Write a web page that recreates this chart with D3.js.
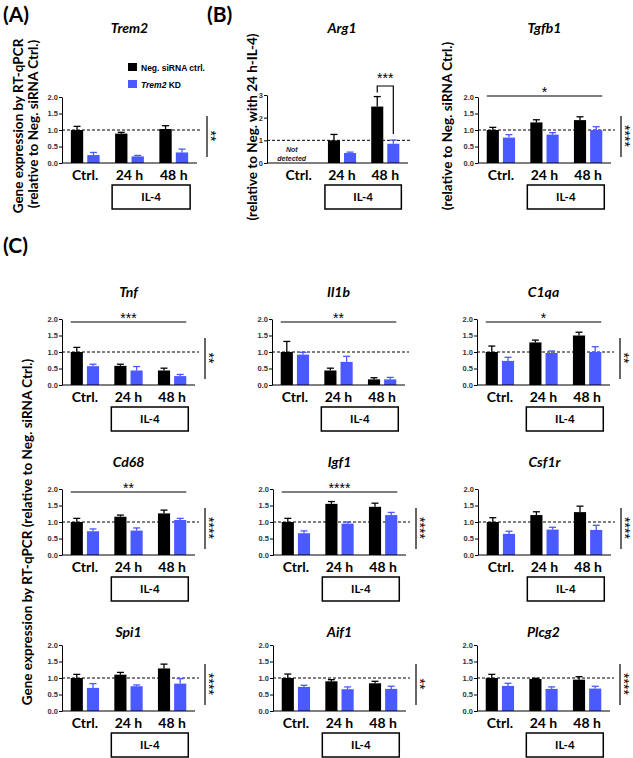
<!DOCTYPE html>
<html><head><meta charset="utf-8">
<script src="https://cdn.jsdelivr.net/npm/d3@7"></script>
<style>body{margin:0;background:#fff} svg{display:block}</style>
</head><body>
<script>
// ---------------- data ----------------
const groups = ["Ctrl.", "24 h", "48 h"];
const seriesNames = ["Neg. siRNA ctrl.", "Trem2 KD"];
const genes = ["Trem2","Arg1","Tgfb1","Tnf","Il1b","C1qa","Cd68","Igf1","Csf1r","Spi1","Aif1","Plcg2"];
const negMeans = [
 [1.00,0.89,1.03],[null,1.00,2.49],[1.00,1.23,1.30],
 [1.00,0.58,0.44],[1.00,0.44,0.17],[1.00,1.29,1.50],
 [1.00,1.16,1.26],[1.00,1.55,1.46],[1.00,1.21,1.30],
 [1.00,1.10,1.29],[1.00,0.90,0.84],[1.00,0.97,0.95]];
const negErrs = [
 [0.11,0.04,0.10],[null,0.26,0.44],[0.08,0.08,0.10],
 [0.14,0.05,0.07],[0.32,0.07,0.05],[0.18,0.07,0.10],
 [0.11,0.05,0.10],[0.11,0.07,0.11],[0.13,0.10,0.18],
 [0.11,0.07,0.13],[0.12,0.05,0.06],[0.11,0.02,0.09]];
const kdMeans = [
 [0.24,0.20,0.32],[null,0.44,0.85],[0.77,0.86,1.00],
 [0.57,0.44,0.27],[0.92,0.70,0.17],[0.73,0.97,1.00],
 [0.72,0.74,1.06],[0.66,0.95,1.21],[0.64,0.77,0.76],
 [0.70,0.75,0.83],[0.73,0.66,0.67],[0.76,0.67,0.68]];
const kdErrs = [
 [0.08,0.03,0.10],[null,0.04,0.16],[0.09,0.06,0.10],
 [0.06,0.12,0.05],[0.07,0.17,0.06],[0.11,0.06,0.16],
 [0.07,0.08,0.05],[0.07,0.05,0.08],[0.08,0.07,0.14],
 [0.13,0.04,0.15],[0.05,0.07,0.08],[0.08,0.06,0.07]];
const yMaxes = [2,3,2,2,2,2,2,2,2,2,2,2];
const yTicksStd = [0,0.5,1,1.5,2];
const yTicksArg1 = [0,1,2,3];
const overallSig = ["","","*","***","**","*","**","****","","","",""];
const sideSig = ["**","","****","**","","**","****","****","****","****","**","****"];
const pairSig = ["","***","","","","","","","","","",""];
const panelLabels = ["(A)","(B)","(C)"];
const stimLabel = "IL-4";
const notDetected = ["Not","detected"];
const yTitleA = ["Gene expression by RT-qPCR","(relative to Neg. siRNA Ctrl.)"];
const yTitleArg1 = "(relative to Neg. with 24 h-IL-4)";
const yTitleTgfb1 = "(relative to Neg. siRNA Ctrl.)";
const yTitleC = "Gene expression by RT-qPCR (relative to Neg. siRNA Ctrl.)";

// ---------------- layout ----------------
const W = 633, H = 758;
const colors = ["#000000", "#4a5aff"];
const layout = [
 {x:62,y:163,w:135,h:66,o:0,s:-63},{x:267,y:163,w:141,h:68,o:9,s:-63},{x:478,y:163,w:133,h:66,o:0,s:-67},
 {x:62,y:385,w:133,h:66,o:0,s:-63},{x:272,y:385,w:133,h:66,o:0,s:-63},{x:477,y:385,w:133,h:66,o:0,s:-63},
 {x:62,y:555,w:133,h:66,o:0,s:-63},{x:273,y:555,w:133,h:66,o:0,s:-63},{x:478,y:555,w:133,h:66,o:0,s:-63},
 {x:62,y:711,w:133,h:66,o:0,s:-63},{x:273,y:711,w:133,h:66,o:0,s:-63},{x:477,y:711,w:133,h:66,o:0,s:-63}];
const titleY = [33,33,33,297,297,297,467,467,467,637,637,637];

const svg = d3.select("body").append("svg").attr("width", W).attr("height", H)
  .style("font-family", "Lato, 'Open Sans', sans-serif");

const lab = "Lato, 'Open Sans', sans-serif";
const arial = "'Liberation Sans', Arial, sans-serif";
const starSize = 14;

genes.forEach((gene, i) => {
  const L = layout[i];
  const g = svg.append("g").attr("transform", `translate(${L.x},${L.y})`);
  const y = d3.scaleLinear().domain([0, yMaxes[i]]).range([0, -L.h]);
  const x0 = d3.scaleBand().domain(groups).range([L.o, L.w]).paddingInner(0.35).paddingOuter(0.2);
  const x1 = d3.scaleBand().domain([0,1]).range([0, x0.bandwidth()]).paddingInner(0.25);

  // dashed reference at 1.0
  g.append("line").attr("x1", 0).attr("x2", L.w + 4).attr("y1", y(1)).attr("y2", y(1))
    .attr("stroke", "#000").attr("stroke-width", 1).attr("stroke-dasharray", "3,2");

  // bars
  const data = [];
  groups.forEach((grp, j) => {
    [negMeans[i][j], kdMeans[i][j]].forEach((m, s) => {
      const e = s === 0 ? negErrs[i][j] : kdErrs[i][j];
      if (m !== null) data.push({grp, s, m, e});
    });
  });
  const bx = d => x0(d.grp) + x1(d.s);
  g.selectAll("rect.bar").data(data).join("rect").attr("class", "bar")
    .attr("x", bx).attr("width", x1.bandwidth())
    .attr("y", d => y(d.m)).attr("height", d => y(0) - y(d.m))
    .attr("fill", d => colors[d.s]);
  // error bars
  g.selectAll("line.err").data(data).join("line").attr("class", "err")
    .attr("x1", d => bx(d) + x1.bandwidth()/2).attr("x2", d => bx(d) + x1.bandwidth()/2)
    .attr("y1", d => y(d.m)).attr("y2", d => y(d.m + d.e))
    .attr("stroke", d => colors[d.s]).attr("stroke-width", 1.3);
  g.selectAll("line.cap").data(data).join("line").attr("class", "cap")
    .attr("x1", d => bx(d) + x1.bandwidth()/2 - 3.5).attr("x2", d => bx(d) + x1.bandwidth()/2 + 3.5)
    .attr("y1", d => y(d.m + d.e)).attr("y2", d => y(d.m + d.e))
    .attr("stroke", d => colors[d.s]).attr("stroke-width", 1.3);

  // axes
  const ticks = yMaxes[i] === 3 ? yTicksArg1 : yTicksStd;
  const ax = g.append("g").call(d3.axisLeft(y).tickValues(ticks).tickSize(3).tickSizeOuter(0)
      .tickFormat(yMaxes[i] === 3 ? d3.format("d") : d3.format(".1f")));
  ax.select(".domain").attr("stroke", "#000").attr("stroke-width", 1);
  ax.selectAll(".tick line").attr("stroke", "#000");
  ax.selectAll(".tick text").attr("font-family", arial).attr("font-weight", "bold")
    .attr("font-size", 7.5).attr("fill", "#333").attr("x", -4);
  g.append("line").attr("x1", 0).attr("x2", L.w).attr("y1", 0).attr("y2", 0)
    .attr("stroke", "#000").attr("stroke-width", 1.2);

  // category labels
  g.selectAll("text.cat").data(groups).join("text").attr("class", "cat")
    .attr("x", d => x0(d) + x0.bandwidth()/2).attr("y", 17)
    .attr("text-anchor", "middle").attr("font-family", lab).attr("font-weight", "bold")
    .attr("font-size", 14).text(d => d);

  // IL-4 box
  const bxL = x0(groups[1]) - 3, bxR = x0(groups[2]) + x0.bandwidth() + 2;
  g.append("rect").attr("x", bxL).attr("y", 22).attr("width", bxR - bxL).attr("height", 24)
    .attr("fill", "none").attr("stroke", "#000").attr("stroke-width", 1.5);
  g.append("text").attr("x", (bxL + bxR)/2).attr("y", 38).attr("text-anchor", "middle")
    .attr("font-family", lab).attr("font-weight", "bold").attr("font-size", 11.5).text(stimLabel);

  // title
  svg.append("text").attr("x", L.x + x0(groups[1]) + x0.bandwidth()/2).attr("y", titleY[i])
    .attr("text-anchor", "middle").attr("font-family", lab).attr("font-weight", "bold")
    .attr("font-style", "italic").attr("font-size", 14).text(gene);

  // overall significance line
  if (overallSig[i]) {
    const xa = x0(groups[0]) + x1(0), xb = x0(groups[2]) + x1(1) + x1.bandwidth();
    g.append("line").attr("x1", xa).attr("x2", xb).attr("y1", L.s).attr("y2", L.s)
      .attr("stroke", "#000").attr("stroke-width", 1.2);
    g.append("text").attr("x", (xa + xb)/2).attr("y", L.s + 1).attr("text-anchor", "middle")
      .attr("font-family", arial).attr("font-size", starSize).text(overallSig[i]);
  }
  // side significance: vertical line with rotated stars
  if (sideSig[i]) {
    const sx = L.w + 10;
    g.append("line").attr("x1", sx).attr("x2", sx).attr("y1", -47).attr("y2", -6)
      .attr("stroke", "#000").attr("stroke-width", 1.2);
    g.append("text").attr("transform", `translate(${sx - 1},-27) rotate(90)`)
      .attr("text-anchor", "middle").attr("font-family", arial).attr("font-size", starSize)
      .attr("fill", "#000").text(sideSig[i]);
  }
  // pair bracket (48 h)
  if (pairSig[i]) {
    const j = 2;
    const cA = x0(groups[j]) + x1(0) + x1.bandwidth()/2;
    const cB = x0(groups[j]) + x1(1) + x1.bandwidth()/2;
    const topA = y(negMeans[i][j] + negErrs[i][j]) - 4;
    const topB = y(kdMeans[i][j] + kdErrs[i][j]) - 6;
    const yb = -77;
    g.append("path").attr("d", `M${cA},${topA}V${yb}H${cB}V${topB}`)
      .attr("fill", "none").attr("stroke", "#000").attr("stroke-width", 1.2);
    g.append("text").attr("x", (cA + cB)/2).attr("y", yb - 3).attr("text-anchor", "middle")
      .attr("font-family", arial).attr("font-size", starSize).text(pairSig[i]);
  }
  // not detected
  if (negMeans[i][0] === null) {
    const cx = x0(groups[0]) + x0.bandwidth()/2 - 7;
    g.selectAll("text.nd").data(notDetected).join("text").attr("class", "nd")
      .attr("x", cx).attr("y", (d, k) => -11 + k * 9).attr("text-anchor", "middle")
      .attr("font-family", arial).attr("font-style", "italic").attr("font-weight", "bold")
      .attr("font-size", 7).attr("fill", "#222").text(d => d);
  }
});

// legend
const leg = svg.append("g").attr("transform", "translate(128,63)");
seriesNames.forEach((n, k) => {
  leg.append("rect").attr("x", 0).attr("y", k * 17).attr("width", 9).attr("height", 8).attr("fill", colors[k]);
  const t = leg.append("text").attr("x", 13).attr("y", k * 17 + 7.5)
    .attr("font-family", arial).attr("font-weight", "bold").attr("font-size", 8.5);
  if (k === 1) {
    t.append("tspan").attr("font-style", "italic").text("Trem2");
    t.append("tspan").text(" KD");
  } else t.text(n);
});

// panel labels
[[3,22],[207,22],[3,253]].forEach((p, k) => {
  svg.append("text").attr("x", p[0]).attr("y", p[1]).attr("font-family", lab)
    .attr("font-weight", "bold").attr("font-size", 21).text(panelLabels[k]);
});

// y axis titles
function vtext(x, yc, s, size) {
  svg.append("text").attr("transform", `translate(${x},${yc}) rotate(-90)`)
    .attr("text-anchor", "middle").attr("font-family", lab).attr("font-weight", "bold")
    .attr("font-size", size).text(s);
}
vtext(23, 126, yTitleA[0], 13.5);
vtext(38, 124, yTitleA[1], 13.5);
vtext(257, 127, yTitleArg1, 13.5);
vtext(452, 126, yTitleTgfb1, 13.5);
vtext(32, 532, yTitleC, 13.5);
</script>
</body></html>
